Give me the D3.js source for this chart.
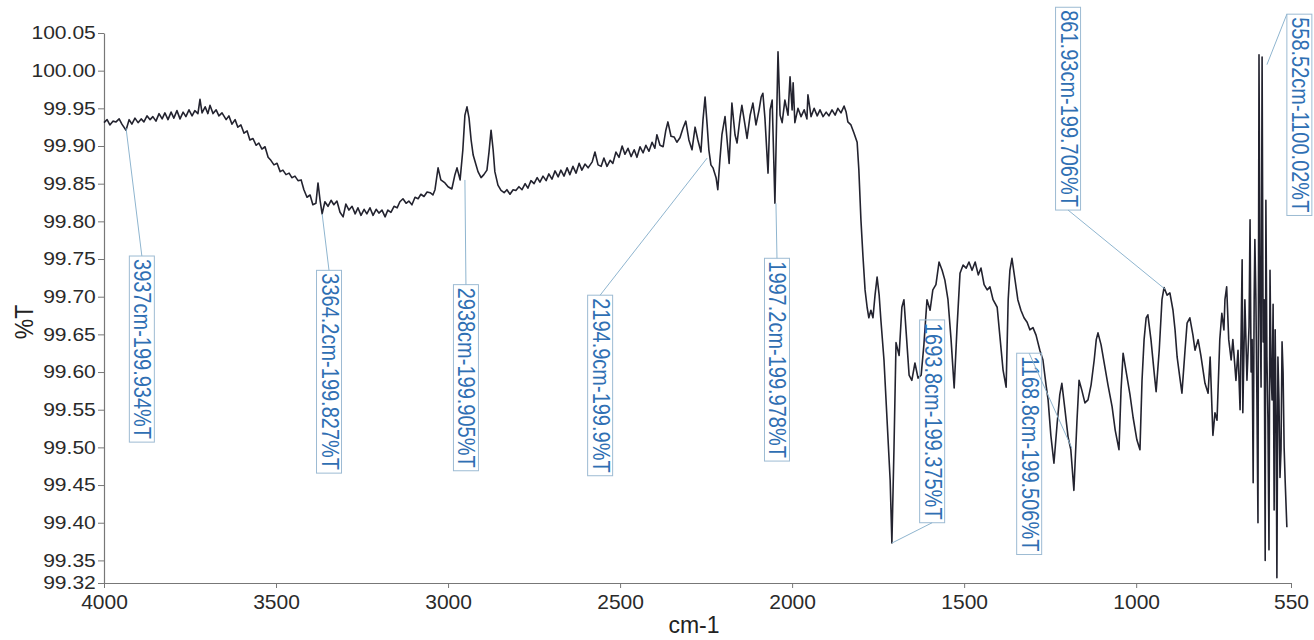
<!DOCTYPE html>
<html>
<head>
<meta charset="utf-8">
<script src="https://cdn.jsdelivr.net/npm/d3@7"></script>
<style>
  html, body { margin: 0; padding: 0; background: #fff; }
  svg { display: block; font-family: "Liberation Sans", Arial, sans-serif; }
</style>
</head>
<body>
<div id="chart"></div>
<script>
// x tick labels (cm-1) and y tick labels (%T)
const xTickValues = [4000, 3500, 3000, 2500, 2000, 1500, 1000, 550];
const yTickValues = [99.32, 99.35, 99.40, 99.45, 99.50, 99.55, 99.60, 99.65, 99.70,
  99.75, 99.80, 99.85, 99.90, 99.95, 100.00, 100.05];

// spectrum: [wavenumber, %T]
const spectrum = [
[4000,99.931],[3991,99.935],[3983,99.928],[3974,99.933],[3965,99.932],[3956,99.936],[3948,99.929],[3936,99.921],[3927,99.935],[3919,99.929],[3910,99.937],[3901,99.931],[3892,99.936],[3884,99.932],[3875,99.940],[3866,99.935],[3858,99.939],[3849,99.933],[3840,99.943],[3831,99.936],[3823,99.944],[3814,99.935],[3805,99.945],[3797,99.937],[3788,99.947],[3779,99.936],[3770,99.945],[3762,99.939],[3753,99.948],[3744,99.940],[3736,99.947],[3727,99.943],[3721,99.962],[3715,99.944],[3706,99.952],[3698,99.943],[3692,99.954],[3683,99.943],[3674,99.948],[3666,99.940],[3657,99.944],[3645,99.935],[3637,99.940],[3628,99.929],[3619,99.935],[3611,99.925],[3602,99.928],[3593,99.917],[3584,99.920],[3576,99.908],[3567,99.910],[3558,99.901],[3550,99.904],[3541,99.896],[3532,99.899],[3523,99.885],[3515,99.881],[3506,99.875],[3497,99.877],[3488,99.866],[3480,99.868],[3471,99.862],[3462,99.864],[3454,99.858],[3445,99.860],[3436,99.854],[3427,99.855],[3419,99.842],[3410,99.832],[3401,99.835],[3393,99.822],[3384,99.824],[3378,99.851],[3372,99.828],[3366,99.810],[3358,99.826],[3349,99.820],[3340,99.828],[3332,99.822],[3323,99.827],[3314,99.812],[3305,99.806],[3297,99.823],[3288,99.815],[3279,99.820],[3270,99.810],[3262,99.818],[3253,99.808],[3244,99.816],[3236,99.810],[3227,99.818],[3218,99.808],[3209,99.816],[3201,99.811],[3192,99.815],[3183,99.806],[3175,99.815],[3166,99.812],[3157,99.820],[3148,99.818],[3140,99.826],[3131,99.830],[3122,99.824],[3114,99.827],[3105,99.822],[3096,99.832],[3087,99.830],[3079,99.836],[3070,99.833],[3061,99.839],[3052,99.838],[3044,99.835],[3038,99.842],[3029,99.871],[3021,99.855],[3009,99.851],[3000,99.846],[2989,99.843],[2980,99.862],[2974,99.871],[2965,99.855],[2957,99.895],[2951,99.941],[2945,99.952],[2939,99.937],[2933,99.908],[2927,99.888],[2922,99.880],[2913,99.866],[2904,99.858],[2896,99.862],[2887,99.868],[2881,99.892],[2875,99.921],[2869,99.895],[2864,99.866],[2855,99.848],[2846,99.841],[2837,99.838],[2829,99.842],[2820,99.836],[2811,99.842],[2803,99.841],[2794,99.846],[2785,99.842],[2776,99.850],[2768,99.844],[2759,99.854],[2750,99.850],[2741,99.858],[2733,99.852],[2724,99.860],[2715,99.854],[2707,99.863],[2698,99.856],[2689,99.867],[2680,99.859],[2672,99.868],[2663,99.860],[2654,99.871],[2646,99.862],[2637,99.873],[2628,99.864],[2619,99.877],[2611,99.868],[2602,99.876],[2593,99.871],[2581,99.879],[2573,99.892],[2564,99.875],[2555,99.873],[2547,99.884],[2538,99.873],[2529,99.881],[2521,99.877],[2512,99.892],[2503,99.885],[2494,99.900],[2486,99.889],[2477,99.897],[2468,99.886],[2459,99.895],[2451,99.885],[2442,99.899],[2433,99.891],[2425,99.901],[2416,99.893],[2407,99.905],[2399,99.897],[2393,99.915],[2384,99.901],[2375,99.899],[2367,99.921],[2361,99.932],[2352,99.913],[2343,99.912],[2335,99.905],[2326,99.911],[2317,99.924],[2309,99.933],[2300,99.908],[2291,99.895],[2282,99.925],[2274,99.908],[2265,99.892],[2259,99.935],[2253,99.965],[2247,99.928],[2242,99.895],[2236,99.875],[2230,99.871],[2221,99.858],[2216,99.842],[2210,99.881],[2204,99.915],[2195,99.939],[2189,99.908],[2183,99.877],[2175,99.957],[2166,99.915],[2160,99.904],[2151,99.939],[2146,99.954],[2137,99.928],[2131,99.910],[2122,99.941],[2114,99.957],[2105,99.928],[2096,99.948],[2090,99.965],[2085,99.970],[2079,99.937],[2070,99.864],[2064,99.948],[2058,99.961],[2050,99.824],[2041,100.025],[2035,99.941],[2029,99.931],[2021,99.961],[2012,99.941],[2006,99.992],[2000,99.948],[1997,99.984],[1992,99.931],[1983,99.950],[1974,99.939],[1965,99.948],[1957,99.936],[1954,99.968],[1945,99.939],[1936,99.950],[1927,99.940],[1919,99.948],[1910,99.939],[1901,99.945],[1893,99.940],[1884,99.948],[1875,99.941],[1867,99.950],[1858,99.944],[1849,99.953],[1843,99.945],[1838,99.932],[1829,99.928],[1820,99.917],[1811,99.905],[1806,99.868],[1800,99.802],[1794,99.753],[1788,99.709],[1782,99.686],[1777,99.672],[1771,99.682],[1765,99.672],[1759,99.702],[1753,99.726],[1747,99.702],[1742,99.669],[1733,99.616],[1724,99.536],[1715,99.456],[1710,99.373],[1704,99.497],[1698,99.639],[1689,99.622],[1681,99.686],[1675,99.696],[1669,99.656],[1660,99.596],[1652,99.589],[1643,99.612],[1634,99.592],[1625,99.596],[1617,99.636],[1608,99.696],[1599,99.682],[1591,99.709],[1582,99.716],[1573,99.746],[1564,99.735],[1556,99.722],[1547,99.696],[1538,99.643],[1529,99.579],[1521,99.656],[1512,99.731],[1503,99.742],[1494,99.738],[1486,99.746],[1477,99.735],[1468,99.746],[1459,99.729],[1451,99.738],[1442,99.716],[1433,99.709],[1425,99.713],[1416,99.696],[1404,99.686],[1396,99.647],[1387,99.603],[1378,99.580],[1372,99.696],[1367,99.735],[1361,99.751],[1352,99.722],[1344,99.696],[1335,99.682],[1326,99.672],[1317,99.666],[1309,99.656],[1300,99.659],[1291,99.649],[1280,99.629],[1271,99.616],[1262,99.583],[1256,99.563],[1248,99.516],[1239,99.479],[1230,99.530],[1222,99.570],[1216,99.585],[1207,99.550],[1198,99.514],[1190,99.497],[1181,99.443],[1172,99.536],[1166,99.589],[1158,99.576],[1149,99.559],[1140,99.563],[1131,99.583],[1122,99.616],[1116,99.643],[1111,99.652],[1102,99.636],[1091,99.607],[1082,99.583],[1070,99.554],[1061,99.523],[1050,99.497],[1044,99.576],[1038,99.625],[1030,99.603],[1018,99.570],[1009,99.540],[998,99.510],[989,99.497],[983,99.589],[977,99.643],[971,99.672],[966,99.676],[957,99.643],[947,99.596],[942,99.574],[933,99.629],[925,99.696],[919,99.712],[910,99.702],[902,99.705],[893,99.682],[887,99.656],[881,99.620],[872,99.589],[867,99.572],[858,99.629],[852,99.665],[844,99.672],[835,99.649],[829,99.629],[820,99.643],[812,99.622],[800,99.585],[791,99.572],[785,99.620],[777,99.516],[771,99.546],[765,99.536],[757,99.643],[751,99.678],[745,99.656],[742,99.696],[737,99.713],[731,99.643],[724,99.616],[719,99.643],[710,99.589],[704,99.629],[698,99.550],[692,99.749],[690,99.546],[684,99.696],[678,99.589],[672,99.660],[669,99.802],[666,99.600],[663,99.643],[660,99.453],[657,99.700],[655,99.776],[652,99.696],[649,99.560],[646,99.400],[643,100.021],[640,99.696],[637,99.580],[634,100.018],[631,99.640],[628,99.696],[625,99.350],[623,99.828],[620,99.620],[617,99.536],[614,99.364],[611,99.735],[608,99.600],[605,99.563],[602,99.690],[599,99.417],[596,99.656],[593,99.520],[591,99.327],[588,99.620],[585,99.563],[582,99.460],[579,99.497],[576,99.640],[573,99.599],[570,99.500],[567,99.456],[562,99.394]
];

// peak labels: text, point on the curve [cm-1, %T], where the leader meets the box [cm-1, %T], which side of the box
const peakLabels = [
  { text: '3937cm-199.934%T',   at: [3936, 99.924],  box: [3890, 99.754],  dock: 'top' },
  { text: '3364.2cm-199.827%T', at: [3366, 99.810],  box: [3346, 99.735],  dock: 'top' },
  { text: '2938cm-199.905%T',   at: [2951, 99.855],  box: [2948, 99.716],  dock: 'top' },
  { text: '2194.9cm-199.9%T',   at: [2247, 99.884],  box: [2558, 99.702],  dock: 'top' },
  { text: '1997.2cm-199.978%T', at: [2047, 99.824],  box: [2044, 99.751],  dock: 'top' },
  { text: '1693.8cm-199.375%T', at: [1710, 99.373],  box: [1593, 99.400],  dock: 'bottom' },
  { text: '1168.8cm-199.506%T', at: [1187, 99.499],  box: [1311, 99.625],  dock: 'top' },
  { text: '861.93cm-199.706%T', at: [916, 99.710],   box: [1198, 99.815],  dock: 'bottom' },
  { text: '558.52cm-1100.02%T', at: [620, 100.008],  box: [562, 100.075],  dock: 'corner' }
];

const W = 1314, H = 640;
const margin = { top: 33, right: 23, bottom: 57, left: 104 };

const svg = d3.select('#chart').append('svg')
  .attr('width', W)
  .attr('height', H);

const x = d3.scaleLinear()
  .domain([4000, 550])
  .range([margin.left, W - margin.right]);

const y = d3.scaleLinear()
  .domain([99.32, 100.05])
  .range([H - margin.bottom, margin.top]);

// axes
const xAxis = svg.append('g')
  .attr('transform', `translate(0,${H - margin.bottom})`)
  .call(d3.axisBottom(x).tickValues(xTickValues).tickFormat(d3.format('d'))
    .tickSize(5).tickSizeOuter(0).tickPadding(6));

const yAxis = svg.append('g')
  .attr('transform', `translate(${margin.left},0)`)
  .call(d3.axisLeft(y).tickValues(yTickValues).tickFormat(d3.format('.2f'))
    .tickSize(6).tickSizeOuter(0).tickPadding(1));

[xAxis, yAxis].forEach(g => {
  g.select('.domain').attr('stroke', '#777').attr('stroke-width', 1.2);
  g.selectAll('.tick line').attr('stroke', '#777');
  g.selectAll('.tick text').attr('fill', '#2a2a2a').attr('font-family', '"Liberation Sans", Arial, sans-serif');
});
xAxis.selectAll('.tick text').attr('font-size', 21);
yAxis.selectAll('.tick text').attr('font-size', 18).attr('transform', 'scale(1.17,1)');

// axis titles
svg.append('text')
  .attr('x', 694)
  .attr('y', 633)
  .attr('text-anchor', 'middle')
  .attr('font-size', 23)
  .attr('fill', '#222')
  .text('cm-1');

svg.append('text')
  .attr('transform', 'translate(33,322) rotate(-90) scale(1,1.15)')
  .attr('text-anchor', 'middle')
  .attr('font-size', 23)
  .attr('fill', '#222')
  .text('%T');

// spectrum
const line = d3.line()
  .x(d => x(d[0]))
  .y(d => y(d[1]));

svg.append('path')
  .datum(spectrum)
  .attr('fill', 'none')
  .attr('stroke', '#23232f')
  .attr('stroke-width', 1.6)
  .attr('stroke-linejoin', 'round')
  .attr('d', line);

// peak labels with leader lines
const boxW = 25;
peakLabels.forEach(p => {
  const bx = x(p.box[0]), by = y(p.box[1]);
  const g = svg.append('g');

  const label = g.append('text')
    .attr('font-size', 20)
    .attr('fill', '#2f6fb3')
    .text(p.text);
  const len = label.node().getComputedTextLength() + 6;

  let left, top, endX, endY;
  if (p.dock === 'top') {
    left = bx - boxW / 2; top = by; endX = bx; endY = by;
  } else if (p.dock === 'bottom') {
    left = bx - boxW / 2; top = by - len; endX = bx; endY = by;
  } else {
    left = bx; top = by; endX = bx; endY = by;
  }

  g.insert('rect', 'text')
    .attr('x', left)
    .attr('y', top)
    .attr('width', boxW)
    .attr('height', len)
    .attr('fill', 'none')
    .attr('stroke', '#9dbbd3')
    .attr('stroke-width', 1);

  label.attr('transform', `translate(${left + 5},${top + 3}) rotate(90) scale(1,1.2)`);

  svg.append('line')
    .attr('x1', x(p.at[0]))
    .attr('y1', y(p.at[1]))
    .attr('x2', endX)
    .attr('y2', endY)
    .attr('stroke', '#8fb5cf')
    .attr('stroke-width', 1);
});
</script>
</body>
</html>
